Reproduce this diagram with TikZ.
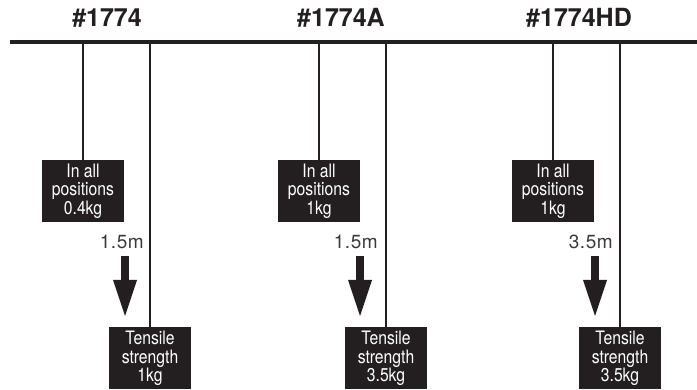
\documentclass[tikz,border=0pt]{standalone}
\usepackage{fontspec}
\setmainfont{TeX Gyre Heros}
\newfontfamily\boxfont[FakeStretch=0.85]{TeX Gyre Heros}
\usepackage{tikz}
\usetikzlibrary{arrows.meta,positioning}
\definecolor{cink}{HTML}{231F20}
\definecolor{clab}{HTML}{3A3A3A}
\tikzset{
  model/.style={font=\fontsize{25}{29}\selectfont\bfseries, text=cink, inner sep=0pt},
  wbox/.style={fill=cink, text=white, align=center, inner sep=0pt,
               minimum width=82pt, minimum height=62pt,
               font=\boxfont\fontsize{18.5}{18.5}\selectfont},
  dist/.style={font=\fontsize{19}{21}\selectfont\addfontfeature{LetterSpace=3}, text=clab,
               inner sep=0pt, anchor=east},
  rail/.style={draw=cink, line width=4.5pt},
  hang/.style={draw=cink, line width=1.2pt},
  drop/.style={draw=cink, line width=7.5pt,
               -{Triangle[width=24pt, length=36pt, line width=0pt]}},
}
\begin{document}
\begin{tikzpicture}[x=1pt, y=-1pt]
  \useasboundingbox (0,0) rectangle (697,390);
  % rail and model numbers
  \coordinate (railL) at (10,42);
  \coordinate (railR) at (697,42);
  \draw[rail] (railL) -- (railR);
  \node[model] (m1) at (107,18) {\#1774};
  \node[model] (m2) at (341,18) {\#1774A};
  \node[model] (m3) at (579,18) {\#1774HD};
  % #1774
  \node[wbox] (p1) at (83,191) {In all\\positions\\0.4kg};
  \node[wbox] (t1) at (150,358.5) {Tensile\\strength\\1kg};
  \node[dist] (d1) at (144,242) {1.5m};
  \draw[hang] (p1.north |- railL) -- (p1.north);
  \draw[hang] (t1.north |- railL) -- (t1.north);
  \coordinate (a1s) at (125,256);
  \coordinate (a1e) at (125,316);
  \draw[drop] (a1s) -- (a1e);
  % #1774A
  \node[wbox] (p2) at (319,191) {In all\\positions\\1kg};
  \node[wbox] (t2) at (386,358.5) {Tensile\\strength\\3.5kg};
  \node[dist] (d2) at (378,242) {1.5m};
  \draw[hang] (p2.north |- railL) -- (p2.north);
  \draw[hang] (t2.north |- railL) -- (t2.north);
  \coordinate (a2s) at (360,256);
  \coordinate (a2e) at (360,316);
  \draw[drop] (a2s) -- (a2e);
  % #1774HD
  \node[wbox] (p3) at (553,191) {In all\\positions\\1kg};
  \node[wbox] (t3) at (620,358.5) {Tensile\\strength\\3.5kg};
  \node[dist] (d3) at (613,242) {3.5m};
  \draw[hang] (p3.north |- railL) -- (p3.north);
  \draw[hang] (t3.north |- railL) -- (t3.north);
  \coordinate (a3s) at (595,256);
  \coordinate (a3e) at (595,316);
  \draw[drop] (a3s) -- (a3e);
\end{tikzpicture}
\end{document}
